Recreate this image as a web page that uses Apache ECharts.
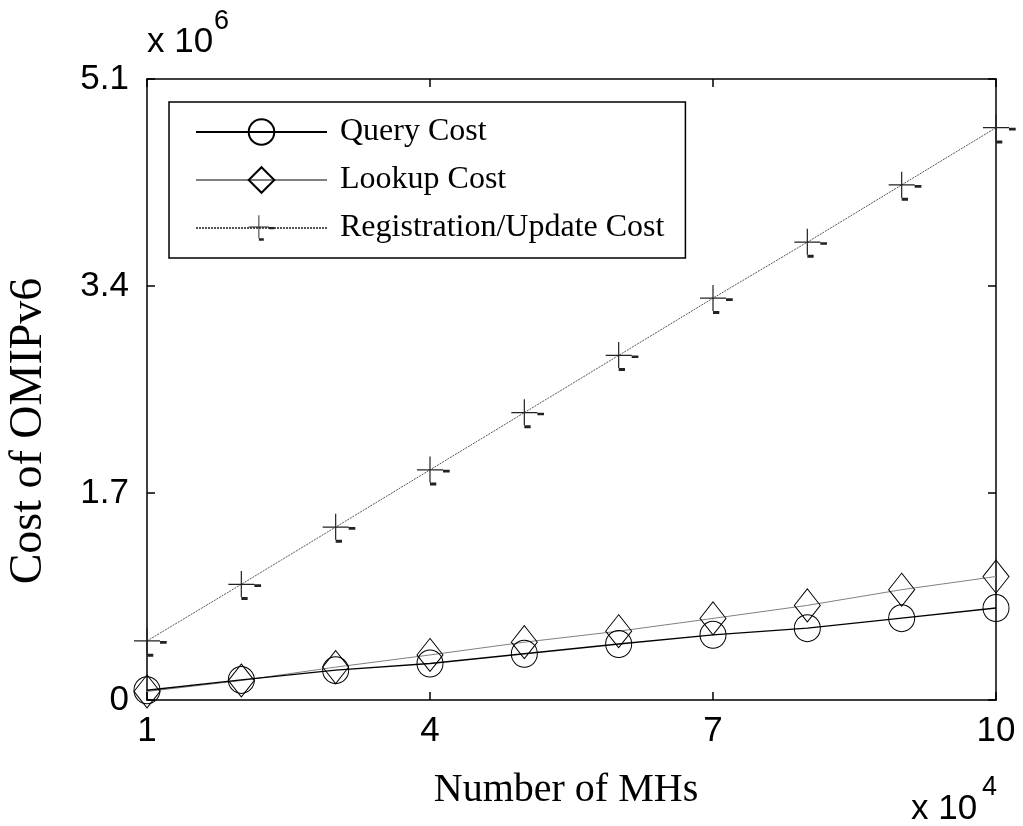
<!DOCTYPE html>
<html>
<head>
<meta charset="utf-8">
<script src="https://cdn.jsdelivr.net/npm/echarts@6/dist/echarts.min.js"></script>
<style>
html,body{margin:0;padding:0;background:#fff;}
#chart{width:1023px;height:826px;}
</style>
</head>
<body>
<div id="chart"></div>
<script>
// Data (x in units of 10^4 MHs, costs in units of 10^6)
const numMHs = [1, 2, 3, 4, 5, 6, 7, 8, 9, 10];
const queryCost = [0.08, 0.165, 0.245, 0.30, 0.38, 0.46, 0.535, 0.59, 0.672, 0.755];
const lookupCost = [0.07, 0.16, 0.27, 0.37, 0.475, 0.565, 0.67, 0.777, 0.906, 1.014];
const regCost = [0.485, 0.95, 1.42, 1.89, 2.36, 2.83, 3.30, 3.76, 4.23, 4.70];
const seriesNames = ['Query Cost', 'Lookup Cost', 'Registration/Update Cost'];
const xTicks = [1, 4, 7, 10];
const yTicks = [0, 1.7, 3.4, 5.1];

const pairs = (ys) => numMHs.map((x, i) => [x, ys[i]]);

const plusPath = 'path://M-13,-0.6L13,-0.6L13,0.6L-13,0.6Z' +
  'M-0.6,-13.3L0.6,-13.3L0.6,12.7L-0.6,12.7Z' +
  'M13,0L19.7,0L19.7,2.7L13,2.7Z' +
  'M0,12.7L6.3,12.7L6.3,15.7L0,15.7Z';

const chart = echarts.init(document.getElementById('chart'), null, {renderer: 'canvas'});

const tickFont = {fontFamily: '"Liberation Sans", Arial, sans-serif', fontSize: 35, color: '#000'};
const serifFont = '"Liberation Serif", "Times New Roman", serif';

const xBase = {
  type: 'value', min: xTicks[0], max: xTicks[xTicks.length - 1], interval: xTicks[1] - xTicks[0],
  splitLine: {show: false},
  axisLine: {show: true, onZero: false, lineStyle: {color: '#000', width: 1.5}},
  axisTick: {show: true, inside: true, length: 8, lineStyle: {color: '#000', width: 1.5}}
};
const yBase = {
  type: 'value', min: yTicks[0], max: yTicks[yTicks.length - 1], interval: yTicks[1] - yTicks[0],
  splitLine: {show: false},
  axisLine: {show: true, onZero: false, lineStyle: {color: '#000', width: 1.5}},
  axisTick: {show: true, inside: true, length: 8, lineStyle: {color: '#000', width: 1.5}}
};

const option = {
  backgroundColor: '#fff',
  animation: false,
  grid: {left: 147, top: 79, right: 27, bottom: 126, containLabel: false},
  xAxis: [
    Object.assign({}, xBase, {position: 'bottom',
      axisLabel: Object.assign({margin: 14, formatter: v => String(Math.round(v))}, tickFont)}),
    Object.assign({}, xBase, {position: 'top', axisLabel: {show: false}})
  ],
  yAxis: [
    Object.assign({}, yBase, {position: 'left',
      axisLabel: Object.assign({margin: 18, formatter: v => String(+v.toFixed(1))}, tickFont)}),
    Object.assign({}, yBase, {position: 'right', axisLabel: {show: false}})
  ],
  legend: {
    show: true,
    orient: 'vertical',
    left: 169, top: 102,
    padding: [14, 21, 14, 26],
    itemWidth: 131, itemHeight: 32, itemGap: 16,
    borderColor: '#000', borderWidth: 1.5,
    backgroundColor: '#fff',
    textStyle: {fontFamily: serifFont, fontSize: 32, color: '#000', padding: [0, 0, 0, 8]},
    data: seriesNames
  },
  series: [
    {
      name: seriesNames[0], type: 'line', data: pairs(queryCost), clip: false,
      symbol: 'circle', symbolSize: [26, 27],
      itemStyle: {color: 'rgba(0,0,0,0)', borderColor: '#000', borderWidth: 1},
      lineStyle: {color: '#000', width: 1.4},
      z: 3
    },
    {
      name: seriesNames[1], type: 'line', data: pairs(lookupCost), clip: false,
      symbol: 'diamond', symbolSize: [26, 33],
      itemStyle: {color: 'rgba(0,0,0,0)', borderColor: '#000', borderWidth: 1},
      lineStyle: {color: '#808080', width: 1},
      z: 2
    },
    {
      name: seriesNames[2], type: 'line', data: pairs(regCost), clip: false,
      symbol: plusPath, symbolSize: [32.7, 29], symbolOffset: [3.35, 1.2],
      itemStyle: {color: '#222', borderWidth: 0},
      lineStyle: {color: '#555', width: 1, type: [2, 1]},
      z: 2
    }
  ],
  graphic: [
    {type: 'text', left: 147, top: 25,
     style: {text: 'x 10', fontFamily: '"Liberation Sans", Arial, sans-serif', fontSize: 35, fill: '#000'}},
    {type: 'text', left: 214, top: 8,
     style: {text: '6', fontFamily: '"Liberation Sans", Arial, sans-serif', fontSize: 27, fill: '#000'}},
    {type: 'text', left: 911, top: 792,
     style: {text: 'x 10', fontFamily: '"Liberation Sans", Arial, sans-serif', fontSize: 35, fill: '#000'}},
    {type: 'text', left: 982, top: 774,
     style: {text: '4', fontFamily: '"Liberation Sans", Arial, sans-serif', fontSize: 27, fill: '#000'}},
    {type: 'text', x: 566, y: 790,
     style: {text: 'Number of MHs', fontFamily: serifFont, fontSize: 40, fill: '#000',
             textAlign: 'center', textVerticalAlign: 'middle'}},
    {type: 'text', x: 29, y: 431, rotation: Math.PI / 2,
     style: {text: 'Cost of OMIPv6', fontFamily: serifFont, fontSize: 46, fill: '#000',
             textAlign: 'center', textVerticalAlign: 'middle'}}
  ]
};
chart.setOption(option);
</script>
</body>
</html>
